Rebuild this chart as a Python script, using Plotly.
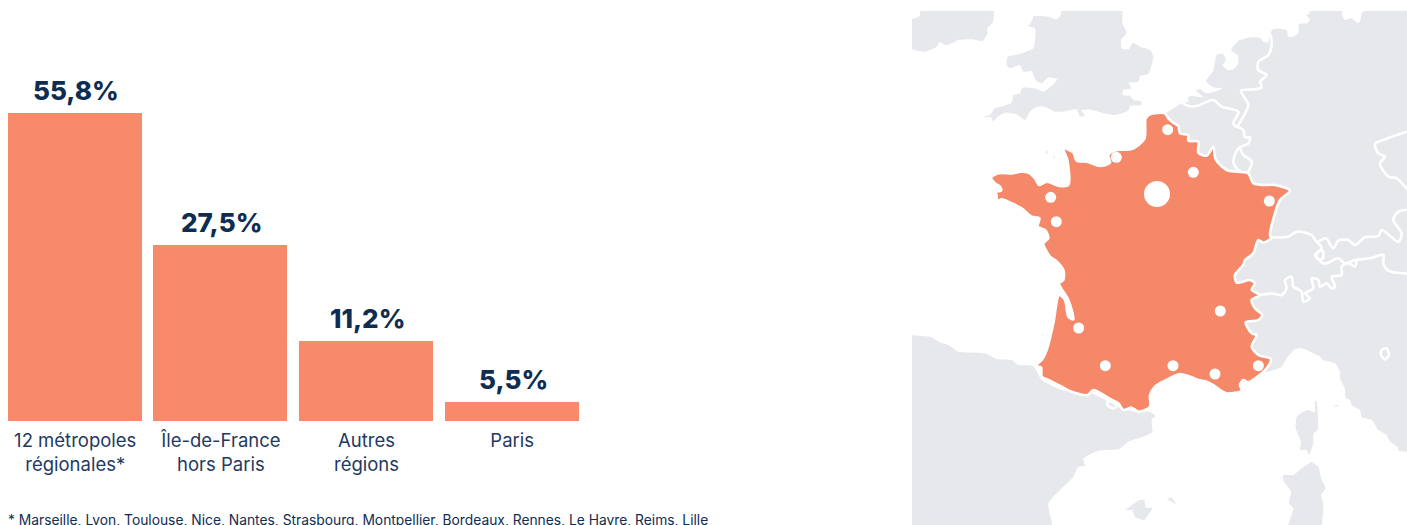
import plotly.graph_objects as go

# ---- chart data ----
categories = ["12 métropoles<br>régionales*", "Île-de-France<br>hors Paris", "Autres<br>régions", "Paris"]
value_labels = ["55,8%", "27,5%", "11,2%", "5,5%"]
# drawn heights (in the source the bars are not proportional to the labels)
plotted_heights = [55.8, 31.9, 14.5, 3.45]
footnote = "* Marseille, Lyon, Toulouse, Nice, Nantes, Strasbourg, Montpellier, Bordeaux, Rennes, Le Havre, Reims, Lille"

BAR = "#F78A6B"
MAP_FR = "#F48869"
GREY = "#E7E8EC"
NAVY = "#0F2D52"
TICK = "#1F3A5F"
FONT = "Inter"

# ---- base-map outlines (map-axis units) ----
def pts(top=(), bottom=()):
    return list(top) + [(x, y + 780) for x, y in bottom]

ireland = pts([(48,20),(264,20),(264,65),(247,85),(248,100),(232,124),(205,118),(160,120),(125,136),(103,126),(95,140),(60,155),(38,152),(10,143),(10,60),(30,55),(44,48)])
britain = pts([(468,20),(650,20),(652,70),(665,100),(648,120),(650,145),(670,148),(685,128),(705,140),(735,150),(745,170),(730,222),(705,228),(700,245),(670,248),(680,265),(655,270),(652,285),(675,288),(685,300),(708,303),(708,315),(675,318),(670,332),(630,345),(590,338),(550,328),(528,332),(540,345),(525,350),(515,328),(475,335),(450,335),(420,320),(395,320),(375,335),(360,360),(335,343),(300,338),(275,352),(265,365),(258,352),(232,350),(255,345),(270,325),(295,318),(320,308),(325,285),(345,280),(352,263),(390,265),(415,275),(440,258),(456,238),(430,232),(410,250),(392,240),(380,213),(355,215),(345,195),(315,205),(305,195),(308,170),(345,162),(385,145),(390,85),(368,78),(375,72),(385,50),(372,38),(385,48),(410,47),(430,50),(455,58),(468,45)])
europe = pts(
    [(785,338),(832,308),(850,305),(850,292),(858,288),(895,292),(882,280),(872,272),(885,267),(905,280),(952,266),(925,262),(903,243),(925,212),(935,165),(955,162),(962,182),(953,197),(970,210),(985,208),(1000,190),(998,165),(978,150),(1000,122),(1030,113),(1065,113),(1075,125),(1090,127),(1095,100),(1105,87),(1145,90),(1150,110),(1165,110),(1180,100),(1182,72),(1205,70),(1215,60),(1205,45),(1215,38),(1205,20),(1325,20),(1310,40),(1320,60),(1340,55),(1355,68),(1365,65),(1370,40),(1390,25),(1475,25),(1525,40)],
    [(1525,575),(1506,575),(1480,572),(1478,560),(1455,545),(1445,525),(1420,510),(1400,480),(1370,472),(1365,450),(1340,435),(1335,420),(1322,415),(1320,385),(1305,355),(1305,335),(1290,310),(1255,300),(1245,290),(1190,265),(1170,268),(1145,295),(1130,320),(1090,335),(1050,340)])
spain = pts([], [(5,225),(80,232),(100,245),(130,255),(160,275),(240,280),(275,297),(320,300),(340,315),(385,318),(410,360),(470,390),(560,400),(640,440),(700,458),(735,455),(752,468),(740,478),(742,515),(720,528),(670,545),(640,568),(580,572),(535,595),(540,618),(520,620),(505,650),(430,730),(440,810),(5,810)])
corsica = pts([], [(1230,422),(1235,425),(1238,510),(1225,520),(1225,550),(1212,585),(1205,570),(1185,570),(1188,545),(1172,505),(1175,470),(1190,458),(1210,450),(1230,458)])
sardinia = pts([], [(1220,605),(1240,620),(1250,660),(1262,685),(1248,705),(1255,730),(1245,810),(1148,810),(1165,745),(1152,730),(1158,695),(1135,662),(1135,645),(1165,645),(1190,625)])
majorca = pts([], [(660,750),(700,722),(718,720),(722,742),(742,745),(725,770),(718,780),(690,770),(682,750)])
menorca = pts([], [(785,718),(800,712),(812,732),(800,725)])
elba = pts([], [(1285,438),(1295,435),(1302,440)])
channel_a = pts([(418,460),(428,452),(428,460)])
channel_b = pts([(445,466),(450,468),(448,478)])

france = pts(
    [(780,340),(790,355),(805,368),(820,378),(825,400),(850,405),(850,422),(880,425),(880,458),(905,467),(925,440),(932,478),(965,510),(1000,515),(1030,520),(1045,550),(1075,555),(1110,555),(1155,572),(1125,600),(1110,640),(1095,705),(1098,715),(1075,728),(1060,720),(1045,760),(1020,780)],
    [(1015,15),(990,45),(995,68),(1035,60),(1050,70),(1040,90),(1065,105),(1040,120),(1050,145),(1072,165),(1060,180),(1022,187),(1040,220),(1055,225),(1040,260),(1060,285),(1098,297),(1085,325),(1030,367),(1015,360),(1005,375),(1010,392),(965,400),(945,390),(925,375),(905,365),(880,360),(860,352),(825,342),(780,362),(750,380),(735,405),(735,440),(700,455),(680,443),(655,450),(640,430),(612,415),(565,390),(548,405),(500,395),(470,380),(430,360),(410,350),(408,322),(390,318),(410,300),(425,270),(445,190),(462,105),(480,120),(490,170),(505,178),(490,120),(462,70),(475,60),(475,30),(450,0)]
) + [(435,770),(415,730),(430,715),(420,690),(398,680),(403,655),(380,650),(350,625),(320,610),(290,598),(275,603),(275,585),(265,577),(288,572),(285,560),(270,550),(258,533),(280,520),(325,520),(345,515),(370,518),(390,535),(403,555),(425,545),(465,558),(490,555),(487,480),(475,445),(505,458),(515,482),(545,485),(585,498),(615,488),(610,465),(635,450),(680,447),(718,417),(722,355),(735,343),(780,340)]

borders = [
    pts([(832,308),(850,318),(875,318),(925,300),(950,320),(1000,335),(985,370),(995,380),(1012,355),(1030,315),(1008,272),(1050,268),(1070,262),(1065,245),(1085,225),(1060,210),(1060,185),(1090,165),(1100,130),(1095,100)]),
    pts([(995,380),(1015,390),(1020,412),(1035,412),(1030,430),(1000,445),(985,485),(1000,510),(1025,520),(1040,485),(1015,465),(1005,445)]),
    pts([(1100,712),(1150,710),(1175,695),(1220,705),(1235,725),(1262,715),(1285,745),(1300,722),(1330,720),(1350,735),(1380,712),(1420,708),(1430,690),(1480,725),(1490,700),(1465,660),(1480,635),(1520,628)]),
    pts([(1520,390),(1475,405),(1440,418),(1410,432),(1420,460),(1440,470),(1425,490),(1450,530),(1475,535),(1520,585)]),
    pts([(1235,725),(1250,745),(1230,765),(1255,790),(1265,790),(1300,775),(1320,790),(1350,780),(1395,775),(1435,765),(1435,790),(1450,812),(1525,822)]),
    pts([], [(1065,105),(1100,100),(1130,105),(1145,85),(1140,60),(1160,50),(1165,80),(1190,95),(1195,125),(1215,115),(1200,100),(1225,85),(1220,55),(1240,60),(1245,80),(1265,70),(1280,85),(1290,80),(1280,50),(1310,45),(1310,20),(1330,10),(1350,20),(1355,0)]),
    pts([], [(1430,270),(1445,265),(1452,285),(1440,298),(1428,285),(1430,270)]),
    pts([], [(612,415),(608,435),(625,445),(640,430),(625,415),(612,415)]),
    pts([], [(1030,367),(1015,360),(1005,375),(1010,392)]),
    pts([(1240,755),(1252,752),(1255,772),(1245,780),(1235,770),(1240,755)]),
]

cities_xy = pts(
    [(788,389),(634,472),(865,517),(1093,603),(437,592),(454,665)],
    [(521,204),(946,153),(601,317),(804,317),(930,342),(1060,317)])
paris_xy = [(756,582)]

fig = go.Figure()

# ---- bars ----
fig.add_trace(go.Bar(
    x=categories, y=plotted_heights, marker=dict(color=BAR, line=dict(width=0)),
    hoverinfo="skip", showlegend=False, width=0.92, xaxis="x", yaxis="y"))

for cat, height, label in zip(categories, plotted_heights, value_labels):
    fig.add_annotation(x=cat, y=height, xref="x", yref="y", text=label, showarrow=False,
                       xshift=1, yanchor="middle", yshift=22.5,
                       font=dict(family=FONT, size=26, color=NAVY, weight=800))

# ---- map ----
def poly(points, color, line_color=None, width=0, smooth=0.5):
    xs, ys = zip(*points)
    fig.add_trace(go.Scatter(
        x=xs, y=ys, mode="lines", fill="toself", fillcolor=color,
        line=dict(color=line_color or color, width=width if line_color else 0, shape="spline", smoothing=smooth),
        hoverinfo="skip", showlegend=False, xaxis="x2", yaxis="y2"))

for shape in (ireland, britain, europe, spain, corsica, sardinia, majorca, menorca, elba, channel_a, channel_b):
    poly(shape, GREY)
for line in borders:
    xs, ys = zip(*line)
    fig.add_trace(go.Scatter(x=xs, y=ys, mode="lines",
        line=dict(color="white", width=2.6, shape="spline", smoothing=0.8),
        hoverinfo="skip", showlegend=False, xaxis="x2", yaxis="y2"))
poly(france, MAP_FR, "white", 2.6, smooth=0.8)

for group, size in ((cities_xy, 11), (paris_xy, 26)):
    xs, ys = zip(*group)
    fig.add_trace(go.Scatter(x=xs, y=ys, mode="markers",
        marker=dict(color="white", size=size, line=dict(width=0)),
        hoverinfo="skip", showlegend=False, xaxis="x2", yaxis="y2"))

fig.add_annotation(text=footnote, xref="paper", yref="paper", x=6/1407, y=(525-519.5)/525,
                   xanchor="left", yanchor="middle", showarrow=False,
                   font=dict(family=FONT, size=13.8, color=NAVY))

fig.update_layout(
    width=1407, height=525, margin=dict(l=0, r=0, t=0, b=0),
    paper_bgcolor="white", plot_bgcolor="white", bargap=0, showlegend=False,
    font=dict(family=FONT, color=NAVY),
    xaxis=dict(domain=[2.4/1407, 585/1407], type="category", categoryorder="array", categoryarray=categories,
               range=[-0.5, 3.5], showgrid=False, zeroline=False, showline=False, fixedrange=True,
               ticks="outside", ticklen=3, tickcolor="rgba(0,0,0,0)",
               tickfont=dict(family=FONT, size=18.5, color=TICK)),
    yaxis=dict(domain=[104/525, 1], range=[0, 421/308*55.8], visible=False, fixedrange=True),
    xaxis2=dict(domain=[912/1407, 1], range=[21, 1506], visible=False, fixedrange=True, anchor="y2"),
    yaxis2=dict(domain=[0, 514/525], range=[1575, 33], visible=False, fixedrange=True, anchor="x2"),
)

fig.write_html("out.html", config={"displayModeBar": False},
               post_script="document.body.style.margin='0';document.body.style.overflow='hidden';")
